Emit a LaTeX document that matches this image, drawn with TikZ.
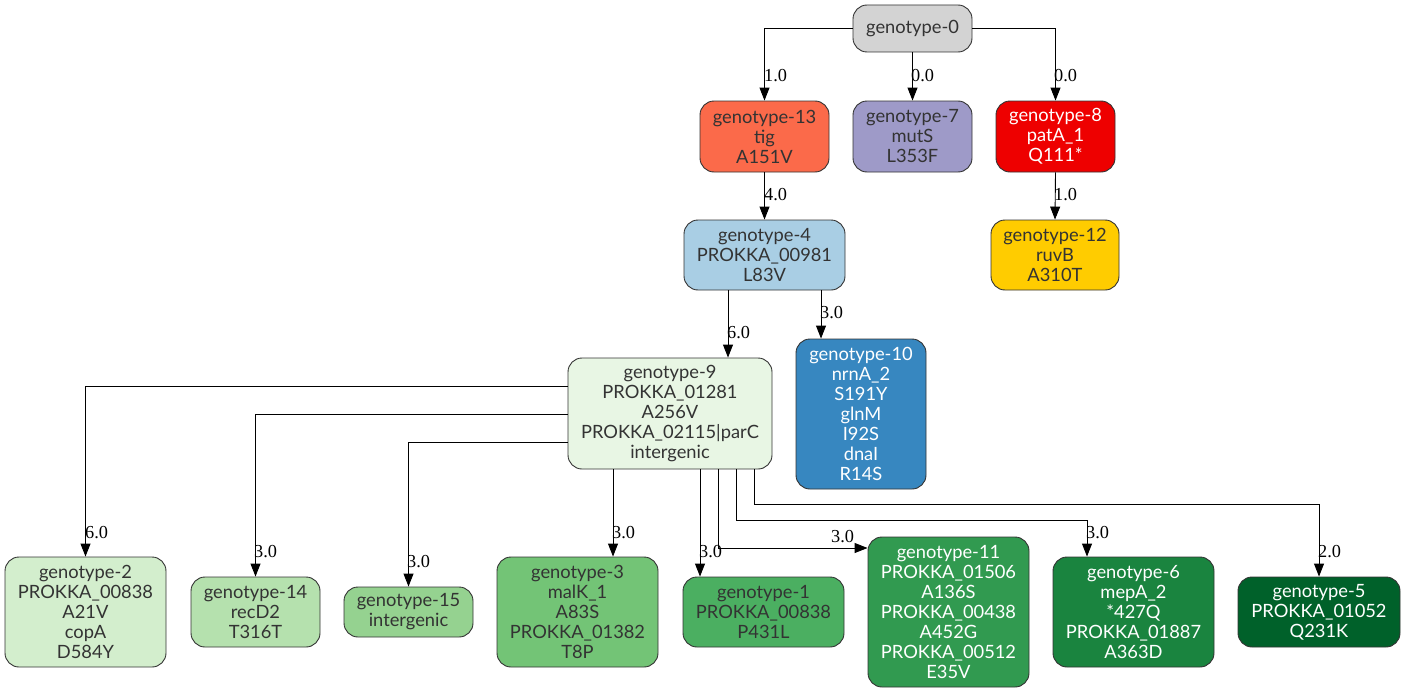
\documentclass[tikz,border=0pt]{standalone}
\usepackage{fontspec}
\setmainfont{Lato}
\newfontfamily\seriflbl{Liberation Serif}
\usetikzlibrary{arrows.meta}

\definecolor{edgegray}{HTML}{333333}
\definecolor{darktext}{HTML}{333333}
\definecolor{c0}{HTML}{D3D3D3}
\definecolor{c13}{HTML}{FB6A4A}
\definecolor{c7}{HTML}{9E9AC8}
\definecolor{c8}{HTML}{EE0000}
\definecolor{c4}{HTML}{A9CEE4}
\definecolor{c12}{HTML}{FFCC00}
\definecolor{c10}{HTML}{3787C0}
\definecolor{c9}{HTML}{E8F6E4}
\definecolor{c2}{HTML}{D3EECD}
\definecolor{c14}{HTML}{B5E1AE}
\definecolor{c15}{HTML}{95D290}
\definecolor{c3}{HTML}{73C476}
\definecolor{c1}{HTML}{4BAF61}
\definecolor{c11}{HTML}{319A50}
\definecolor{c6}{HTML}{1A843F}
\definecolor{c5}{HTML}{00612A}

\begin{document}
\begin{tikzpicture}[x=1pt, y=-1pt,
  gnode/.style={draw=edgegray, line width=0.9pt, rounded corners=14pt,
    align=center, inner sep=0pt, text=darktext,
    font=\fontsize{18.3}{20}\selectfont},
  light/.style={text=white},
  lbl/.style={anchor=west, inner sep=0pt, font=\fontsize{18.3}{20}\selectfont\seriflbl},
  link/.style={-{Triangle[length=13pt,width=10pt]}, line width=0.9pt, black}]
\useasboundingbox (0,0) rectangle (1405,693);

% genotype nodes
\node[gnode, fill=c0, minimum width=119pt, minimum height=47pt] (g0) at (912.5,28.5) {genotype-0};
\node[gnode, fill=c13, minimum width=129pt, minimum height=71pt] (g13) at (764.5,136.5) {genotype-13\\tig\\A151V};
\node[gnode, fill=c7, minimum width=119pt, minimum height=71pt] (g7) at (912.5,136.5) {genotype-7\\mutS\\L353F};
\node[gnode, light, fill=c8, minimum width=119pt, minimum height=71pt] (g8) at (1055.5,136.5) {genotype-8\\patA\_1\\Q111*};
\node[gnode, fill=c4, minimum width=161pt, minimum height=70pt] (g4) at (764.5,255) {genotype-4\\PROKKA\_00981\\L83V};
\node[gnode, fill=c12, minimum width=128pt, minimum height=70pt] (g12) at (1055,255) {genotype-12\\ruvB\\A310T};
\node[gnode, light, fill=c10, minimum width=130pt, minimum height=150pt] (g10) at (861,414) {genotype-10\\nrnA\_2\\S191Y\\glnM\\I92S\\dnaI\\R14S};
\node[gnode, fill=c9, minimum width=204pt, minimum height=111pt] (g9) at (670,413.5) {genotype-9\\PROKKA\_01281\\A256V\\PROKKA\_02115|parC\\intergenic};
\node[gnode, fill=c2, minimum width=161pt, minimum height=110pt] (g2) at (85.5,612) {genotype-2\\PROKKA\_00838\\A21V\\copA\\D584Y};
\node[gnode, fill=c14, minimum width=129pt, minimum height=70pt] (g14) at (255.5,612) {genotype-14\\recD2\\T316T};
\node[gnode, fill=c15, minimum width=129pt, minimum height=50pt] (g15) at (408.5,612) {genotype-15\\intergenic};
\node[gnode, fill=c3, minimum width=161pt, minimum height=110pt] (g3) at (577.5,612) {genotype-3\\malK\_1\\A83S\\PROKKA\_01382\\T8P};
\node[gnode, fill=c1, minimum width=161pt, minimum height=70pt] (g1) at (763.5,612) {genotype-1\\PROKKA\_00838\\P431L};
\node[gnode, light, fill=c11, minimum width=161pt, minimum height=150pt] (g11) at (948.5,612) {genotype-11\\PROKKA\_01506\\A136S\\PROKKA\_00438\\A452G\\PROKKA\_00512\\E35V};
\node[gnode, light, fill=c6, minimum width=161pt, minimum height=110pt] (g6) at (1133.5,612) {genotype-6\\mepA\_2\\*427Q\\PROKKA\_01887\\A363D};
\node[gnode, light, fill=c5, minimum width=162pt, minimum height=70pt] (g5) at (1319,612) {genotype-5\\PROKKA\_01052\\Q231K};

% connectors
\draw[link] (g0.west) -| (g13.north);
\draw[link] (g0.south) -- (g7.north);
\draw[link] (g0.east) -| (g8.north);
\draw[link] (g13.south) -- (g4.north);
\draw[link] (g8.south) -- (g12.north);
\draw[link] (728,0 |- g4.south) -- (728,0 |- g9.north);
\draw[link] (821,0 |- g4.south) -- (821,0 |- g10.north);
\draw[link] (g9.west |- 0,386) -| (g2.north);
\draw[link] (g9.west |- 0,414) -| (g14.north);
\draw[link] (g9.west |- 0,442) -| (g15.north);
\draw[link] (613,0 |- g9.south) -- (613,0 |- g3.north);
\draw[link] (700,0 |- g9.south) -- (700,0 |- g1.north);
\draw[link] (718,0 |- g9.south) |- (g11.west |- 0,548);
\draw[link] (736,0 |- g9.south) |- (1087,520) -- (1087,0 |- g6.north);
\draw[link] (754,0 |- g9.south) |- (1319,504) -- (g5.north);

% connector labels
\node[lbl] (l0a) at (764,76) {1.0};
\node[lbl] (l0b) at (911,76) {0.0};
\node[lbl] (l0c) at (1054,76) {0.0};
\node[lbl] (l13) at (764,195) {4.0};
\node[lbl] (l8) at (1054,195) {1.0};
\node[lbl] (l4a) at (727,333) {6.0};
\node[lbl] (l4b) at (820,313) {3.0};
\node[lbl] (l9a) at (85,533) {6.0};
\node[lbl] (l9b) at (254,552) {3.0};
\node[lbl] (l9c) at (407,562) {3.0};
\node[lbl] (l9d) at (612,533) {3.0};
\node[lbl] (l9e) at (699,552) {3.0};
\node[lbl] (l9f) at (831,537) {3.0};
\node[lbl] (l9g) at (1086,533) {3.0};
\node[lbl] (l9h) at (1318,552) {2.0};
\end{tikzpicture}
\end{document}
